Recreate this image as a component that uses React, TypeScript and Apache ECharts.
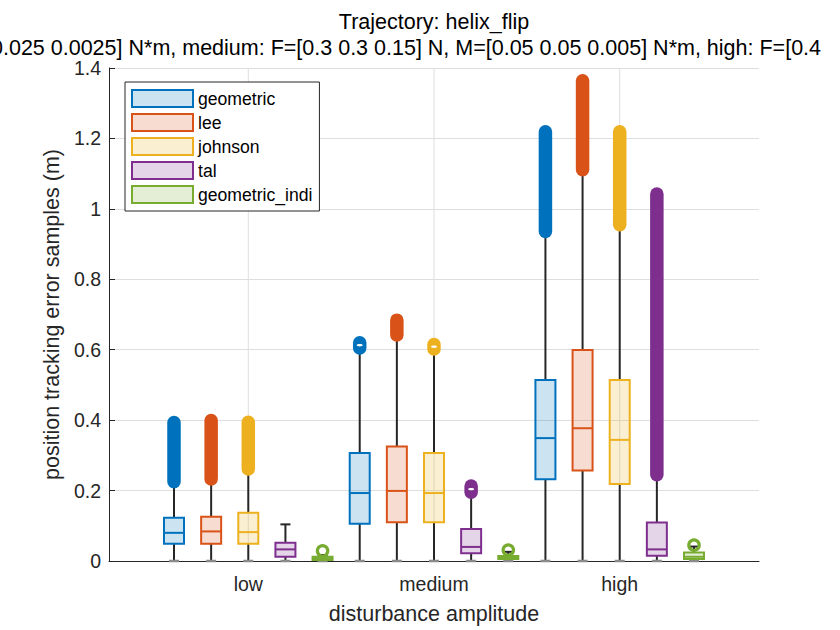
import * as echarts from 'echarts';
import { useEffect, useRef } from 'react';

const categories = ['low', 'medium', 'high'];
const seriesNames = ['geometric', 'lee', 'johnson', 'tal', 'geometric_indi'];
const colors = ['#0072BD', '#D95319', '#EDB120', '#7E2F8E', '#77AC30'];
const swatches = ['#CCE3F2', '#F7DDD1', '#FBEFD2', '#E5D5E8', '#E4EED6'];
const boxFills = [
    'rgba(0,114,189,0.2)',
    'rgba(217,83,25,0.2)',
    'rgba(237,177,32,0.2)',
    'rgba(126,47,142,0.2)',
    'rgba(119,172,48,0.2)',
];
const yTicks = [0, 0.2, 0.4, 0.6, 0.8, 1, 1.2, 1.4];

// one row per series, one column per category (low, medium, high)
const whiskerLow = [
    [0, 0, 0],
    [0, 0, 0],
    [0, 0, 0],
    [0, 0, 0],
    [0, 0, 0],
];
const q1 = [
    [0.049, 0.106, 0.232],
    [0.049, 0.110, 0.257],
    [0.049, 0.110, 0.219],
    [0.012, 0.022, 0.015],
    [0.003, 0.006, 0.006],
];
const median = [
    [0.080, 0.193, 0.349],
    [0.084, 0.199, 0.377],
    [0.082, 0.193, 0.344],
    [0.033, 0.040, 0.033],
    [0.008, 0.010, 0.012],
];
const q3 = [
    [0.123, 0.307, 0.514],
    [0.126, 0.325, 0.599],
    [0.137, 0.307, 0.514],
    [0.052, 0.091, 0.109],
    [0.012, 0.014, 0.024],
];
const whiskerHigh = [
    [0.222, 0.600, 0.932],
    [0.230, 0.638, 1.107],
    [0.258, 0.598, 0.951],
    [0.104, 0.192, 0.240],
    [0.017, 0.026, 0.041],
];
// outliers, lowest and highest (null = none)
const outlierMin = [
    [0.225, 0.605, 0.936],
    [0.233, 0.642, 1.111],
    [0.261, 0.602, 0.955],
    [null, 0.195, 0.245],
    [0.029, 0.031, 0.045],
];
const outlierMax = [
    [0.393, 0.620, 1.219],
    [0.399, 0.684, 1.364],
    [0.394, 0.615, 1.219],
    [null, 0.213, 1.042],
    [0.029, 0.031, 0.045],
];

const FONT = 'Liberation Sans, Arial, Helvetica, sans-serif';
const TXT = '#262626';
const GRID = '#dedede';

export default function App() {
    const chartRef = useRef<HTMLDivElement>(null);

    useEffect(() => {
        const chart = echarts.init(chartRef.current, null, { renderer: 'svg' });

        const boxSeries = seriesNames.map((name, k) => ({
            name,
            type: 'custom',
            z: 3,
            itemStyle: { color: colors[k] },
            data: categories.map((c, g) => [
                g + 1 + (k - 2) * 0.2,
                whiskerLow[k][g],
                q1[k][g],
                median[k][g],
                q3[k][g],
                whiskerHigh[k][g],
                outlierMin[k][g] ?? NaN,
                outlierMax[k][g] ?? NaN,
            ]),
            encode: { x: 0, y: [1, 2, 3, 4, 5] },
            renderItem: (params: any, api: any) => {
                const x = api.value(0);
                const c = (v: number) => api.coord([x, v]);
                const [cx, yLo] = c(api.value(1));
                const yQ1 = c(api.value(2))[1];
                const yMed = c(api.value(3))[1];
                const yQ3 = c(api.value(4))[1];
                const yHi = c(api.value(5))[1];
                const oMin = api.value(6);
                const oMax = api.value(7);
                const half = 10;
                const wStyle = { stroke: TXT, lineWidth: 2 };
                const children: any[] = [
                    { type: 'line', shape: { x1: cx, y1: yLo, x2: cx, y2: yQ1 }, style: wStyle },
                    { type: 'line', shape: { x1: cx, y1: yQ3, x2: cx, y2: yHi }, style: wStyle },
                    { type: 'line', shape: { x1: cx - 5, y1: yLo, x2: cx + 5, y2: yLo }, style: { stroke: '#8a8a8a', lineWidth: 2.5 } },
                    { type: 'line', shape: { x1: cx - 5, y1: yHi, x2: cx + 5, y2: yHi }, style: wStyle },
                ];
                if (!isNaN(oMin) && !isNaN(oMax)) {
                    const y1 = c(oMin)[1];
                    const y2 = c(oMax)[1];
                    const span = Math.abs(y1 - y2);
                    if (span < 1) {
                        children.push({
                            type: 'circle',
                            shape: { cx, cy: y1, r: 5.2 },
                            style: { fill: 'none', stroke: colors[k], lineWidth: 3.2 },
                        });
                    } else {
                        children.push({
                            type: 'line',
                            shape: { x1: cx, y1, x2: cx, y2 },
                            style: { stroke: colors[k], lineWidth: 13.5, lineCap: 'round' },
                        });
                        if (span < 8) {
                            children.push({
                                type: 'ellipse',
                                shape: { cx, cy: (y1 + y2) / 2, rx: 3, ry: 1.2 },
                                style: { fill: '#fff' },
                            });
                        }
                    }
                }
                children.push({
                    type: 'rect',
                    shape: { x: cx - half, y: yQ3, width: half * 2, height: yQ1 - yQ3 },
                    style: { fill: boxFills[k], stroke: colors[k], lineWidth: 2 },
                });
                children.push({
                    type: 'line',
                    shape: { x1: cx - half, y1: yMed, x2: cx + half, y2: yMed },
                    style: { stroke: colors[k], lineWidth: 2 },
                });
                return { type: 'group', children };
            },
        }));

        const option = {
            animation: false,
            backgroundColor: '#fff',
            textStyle: { fontFamily: FONT },
            graphic: [
                {
                    type: 'text',
                    x: 434,
                    y: 22,
                    style: {
                        text: 'Trajectory: helix_flip',
                        font: `21.5px ${FONT}`,
                        fill: '#000',
                        align: 'center',
                        verticalAlign: 'middle',
                    },
                },
                {
                    type: 'text',
                    x: -9,
                    y: 48,
                    style: {
                        text: '0.025 0.0025] N*m, medium: F=[0.3 0.3 0.15] N, M=[0.05 0.05 0.005] N*m, high: F=[0.4',
                        font: `21.5px ${FONT}`,
                        fill: '#000',
                        align: 'left',
                        verticalAlign: 'middle',
                    },
                },
            ],
            legend: {
                orient: 'vertical',
                left: 125,
                top: 82,
                padding: [7, 7, 7, 6],
                itemWidth: 61,
                itemHeight: 17,
                itemGap: 5,
                borderColor: TXT,
                borderWidth: 1,
                borderRadius: 0,
                backgroundColor: '#fff',
                selectedMode: false,
                textStyle: { fontSize: 17.6, color: '#000', fontFamily: FONT },
                data: seriesNames.map((n, k) => ({
                    name: n,
                    icon: 'rect',
                    itemStyle: { color: swatches[k], borderColor: colors[k], borderWidth: 2 },
                })),
            },
            grid: { left: 109, right: 81, top: 68, bottom: 69 },
            xAxis: {
                type: 'value',
                min: 0.25,
                max: 3.75,
                name: 'disturbance amplitude',
                nameLocation: 'middle',
                nameGap: 42,
                nameTextStyle: { fontSize: 21.5, color: TXT, fontFamily: FONT },
                axisLine: { show: true, lineStyle: { color: TXT, width: 1 } },
                axisTick: { show: true, inside: true, length: 6, customValues: [1, 2, 3], lineStyle: { color: TXT } },
                axisLabel: {
                    customValues: [1, 2, 3],
                    formatter: (v: number) => categories[Math.round(v) - 1] ?? '',
                    fontSize: 19.5,
                    color: TXT,
                    margin: 13,
                    fontFamily: FONT,
                },
                splitLine: { show: false },
            },
            yAxis: {
                type: 'value',
                min: yTicks[0],
                max: yTicks[yTicks.length - 1],
                interval: 0.2,
                name: 'position tracking error samples (m)',
                nameLocation: 'middle',
                nameGap: 40,
                nameTextStyle: { fontSize: 21.5, color: TXT, fontFamily: FONT },
                axisLine: { show: true, lineStyle: { color: TXT, width: 1 } },
                axisTick: { show: true, inside: true, length: 6, lineStyle: { color: TXT } },
                axisLabel: {
                    fontSize: 19.5,
                    color: TXT,
                    margin: 8,
                    fontFamily: FONT,
                    formatter: (v: number) => String(Math.round(v * 10) / 10),
                },
                splitLine: { show: true, lineStyle: { color: GRID, width: 1 } },
            },
            series: [
                {
                    name: '_grid',
                    type: 'custom',
                    z: 1,
                    silent: true,
                    data: categories.map((c, i) => [i + 1]),
                    encode: { x: 0 },
                    renderItem: (params: any, api: any) => {
                        const x = api.coord([api.value(0), 0])[0];
                        const cs = params.coordSys;
                        return {
                            type: 'line',
                            shape: { x1: x, y1: cs.y, x2: x, y2: cs.y + cs.height },
                            style: { stroke: GRID, lineWidth: 1 },
                        };
                    },
                },
                ...boxSeries,
            ],
        };

        chart.setOption(option as any);
        return () => {
            chart.dispose();
        };
    }, []);

    return (
        <div
            ref={chartRef}
            style={{ position: 'absolute', left: 0, top: 0, width: 840, height: 630 }}
        />
    );
}
